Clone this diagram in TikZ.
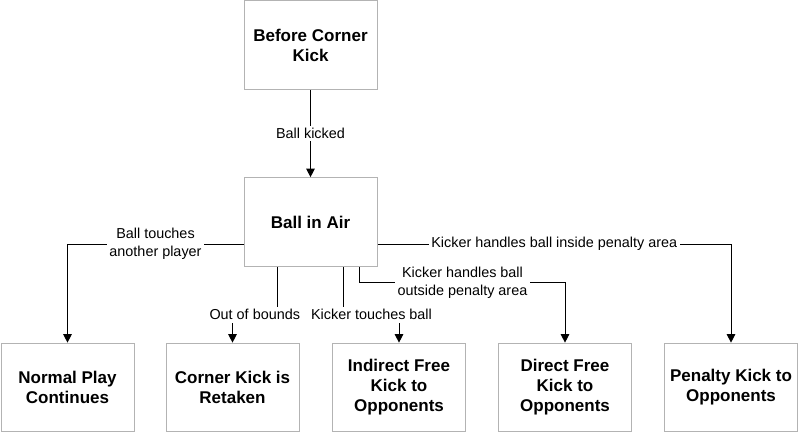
\documentclass[tikz,border=0pt]{standalone}
\usepackage{fontspec}
\setmainfont{Liberation Sans}
\usetikzlibrary{arrows.meta}
\definecolor{boxgray}{HTML}{B3B3B3}

\begin{document}
\begin{tikzpicture}[x=0.75pt, y=-0.75pt, >={Triangle[width=6.5pt,length=6.5pt]},
  state/.style={draw=boxgray, line width=0.75pt, minimum width=99.75pt, minimum height=66.5pt,
    inner sep=0pt, align=center, font=\fontsize{12.75}{15}\selectfont\bfseries},
  lbl/.style={fill=white, inner sep=2pt, align=center, font=\fontsize{10.8}{13.3}\selectfont},
  flow/.style={->, line width=0.75pt}]
\useasboundingbox (0,0) rectangle (798,439);
\node[state] (before) at (310.5,45) {Before Corner\\Kick};
\node[state] (air) at (310.5,222) {Ball in Air};
\node[state] (normal) at (67.5,387.5) {Normal Play\\Continues};
\node[state] (corner) at (232.5,387.5) {Corner Kick is\\Retaken};
\node[state] (indirect) at (399,387.5) {Indirect Free\\Kick to\\Opponents};
\node[state] (direct) at (565,387.5) {Direct Free\\Kick to\\Opponents};
\node[state] (penalty) at (731,387.5) {Penalty Kick to\\Opponents};
\draw[flow] (before) -- node[lbl]{Ball kicked} (air);
\draw[flow] ([yshift=-16.5pt]air.west) -| node[pos=0.25,lbl]{Ball touches\\another player} (normal);
\draw[flow] ([xshift=-25.1pt]air.south) -- ++(0,48) -| node[pos=0.25,lbl]{Out of bounds} (corner);
\draw[flow] ([xshift=25.1pt]air.south) -- ++(0,48) -| node[pos=0.25,lbl]{Kicker touches ball} (indirect);
\draw[flow] ([xshift=37.1pt]air.south) -- ++(0,16) -| node[pos=0.25,lbl]{Kicker handles ball\\outside penalty area} (direct);
\draw[flow] ([yshift=-16.5pt]air.east) -| node[pos=0.25,lbl]{Kicker handles ball inside penalty area} (penalty);
\end{tikzpicture}
\end{document}
